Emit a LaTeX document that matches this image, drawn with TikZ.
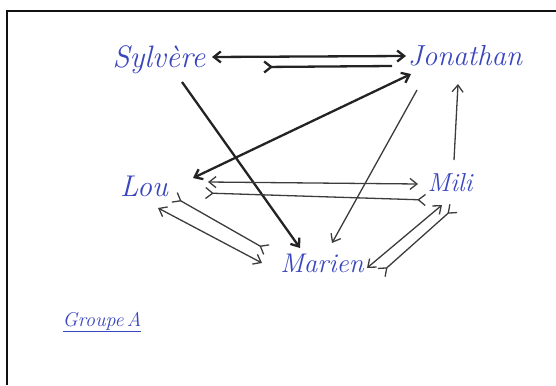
\documentclass[tikz,border=0pt]{standalone}
\usepackage{tikz}
\usetikzlibrary{arrows.meta}
\definecolor{pen}{HTML}{3A46BE}
\definecolor{ink}{HTML}{232323}
\definecolor{lead}{HTML}{3C3C3C}
\definecolor{frame}{HTML}{111111}

\begin{document}
\begin{tikzpicture}[x=1pt,y=-1pt,>={Straight Barb[length=7pt,width=11pt]},
  pupil/.style={text=pen,inner sep=0pt,font=\fontsize{28}{30}\selectfont\itshape},
  bond/.style={draw=ink,line width=2.3pt},
  link/.style={draw=lead,line width=1.3pt}]
\useasboundingbox (0,0) rectangle (556,385);
\draw[frame,line width=1.2pt] (7,385) -- (7,11) -- (556,11);
\node[pupil,font=\fontsize{31}{33}\selectfont\itshape] (syl) at (159,60) {Sylvère};
\node[pupil,font=\fontsize{29}{31}\selectfont\itshape] (jon) at (465,56) {Jonathan};
\node[pupil,font=\fontsize{30}{32}\selectfont\itshape] (lou) at (144,186) {Lou};
\node[pupil,font=\fontsize{26}{28}\selectfont\itshape] (mil) at (450,183) {Mili};
\node[pupil,font=\fontsize{27}{29}\selectfont\itshape] (mar) at (322,263) {Marien};
\node[pupil,font=\fontsize{20}{22}\selectfont\itshape] (grp) at (102,322) {\underline{Groupe\,A}};
\draw[bond,<->] ([shift={(53,-3)}]syl.center) -- ([shift={(-59,0)}]jon.center);
\draw[bond,>-] ([shift={(104,7)}]syl.center) -- ([shift={(-73,10)}]jon.center);
\draw[bond,->] ([shift={(23,22)}]syl.center) -- ([shift={(-22,-15)}]mar.center);
\draw[bond,<->] ([shift={(49,-8)}]lou.center) -- ([shift={(-54,18)}]jon.center);
\draw[link,->] ([shift={(-48,34)}]jon.center) -- ([shift={(10,-20)}]mar.center);
\draw[link,->] ([shift={(4,-23)}]mil.center) -- ([shift={(-7,28)}]jon.center);
\draw[link,<->] ([shift={(64,-4)}]lou.center) -- ([shift={(-32,1)}]mil.center);
\draw[link,>-<] ([shift={(61,7)}]lou.center) -- ([shift={(-24,17)}]mil.center);
\draw[link,>-<] ([shift={(30,11)}]lou.center) -- ([shift={(-55,-13)}]mar.center);
\draw[link,<->] ([shift={(14,22)}]lou.center) -- ([shift={(-60,0)}]mar.center);
\draw[link,<->] ([shift={(-8,22)}]mil.center) -- ([shift={(45,5)}]mar.center);
\draw[link,>-<] ([shift={(4,25)}]mil.center) -- ([shift={(59,10)}]mar.center);
\end{tikzpicture}
\end{document}
